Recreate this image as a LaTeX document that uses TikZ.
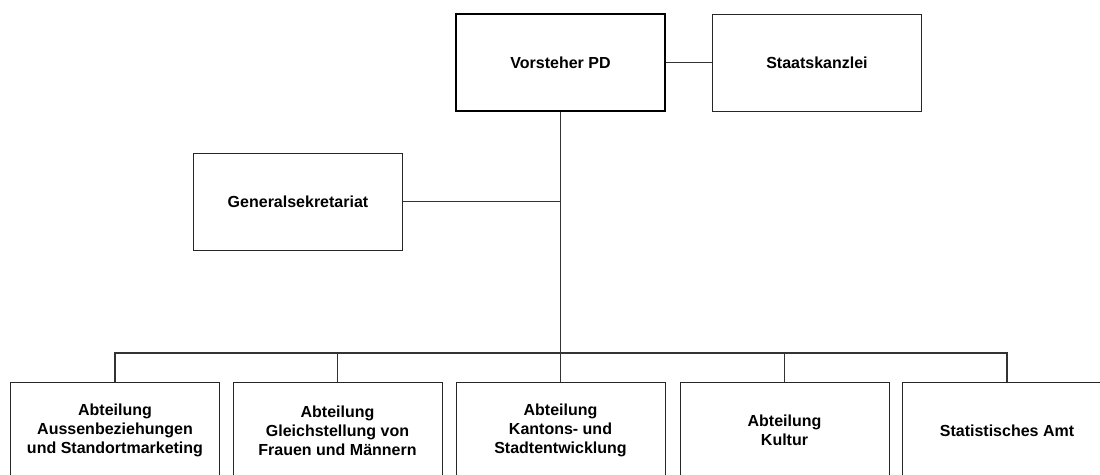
\documentclass[tikz,border=0pt]{standalone}
\usepackage{fontspec}
\setmainfont{Liberation Sans}
\usepackage{tikz}
\usetikzlibrary{calc}

\tikzset{
    unit/.style={draw=black!85, line width=1pt, fill=white, minimum width=209pt, minimum height=97pt,
        inner sep=0pt, align=center, font=\fontsize{16}{19}\selectfont\bfseries},
    chef/.style={unit, line width=2pt, draw=black},
    link/.style={draw=black!80, line width=1.3pt}
}

\begin{document}
\begin{tikzpicture}[x=1pt, y=-1pt]
    \clip (0,0) rectangle (1100,474);
    \fill[white] (0,0) rectangle (1100,474);
    % Leitung
    \node[chef] (vorsteher) at (560.5,62.5) {Vorsteher PD};
    \node[unit] (staatskanzlei) at (817,62.5) {Staatskanzlei};
    \node[unit] (gensek) at (298,201.5) {Generalsekretariat};
    \coordinate (bus) at (560.5,353);
    % Abteilungen
    \node[unit] (abt1) at (115,430.5) {Abteilung\\Aussenbeziehungen\\und Standortmarketing};
    \node[unit] (abt2) at (337.5,430.5) {Abteilung\\Gleichstellung von\\Frauen und M\"annern};
    \node[unit] (abt3) at (560.5,430.5) {Abteilung\\Kantons- und\\Stadtentwicklung};
    \node[unit] (abt4) at (784.5,430.5) {Abteilung\\Kultur};
    \node[unit] (abt5) at (1007,430.5) {Statistisches Amt};
    % Verbindungen
    \draw[link] (vorsteher) -- (staatskanzlei);
    \draw[link] (vorsteher) -- (bus);
    \draw[link] (gensek) -- (gensek -| vorsteher);
    \draw[link] (abt1.north) |- (bus) -| (abt5.north);
    \foreach \i in {2,3,4}
        \draw[link] (abt\i.north) -- (abt\i.north |- bus);
\end{tikzpicture}
\end{document}
